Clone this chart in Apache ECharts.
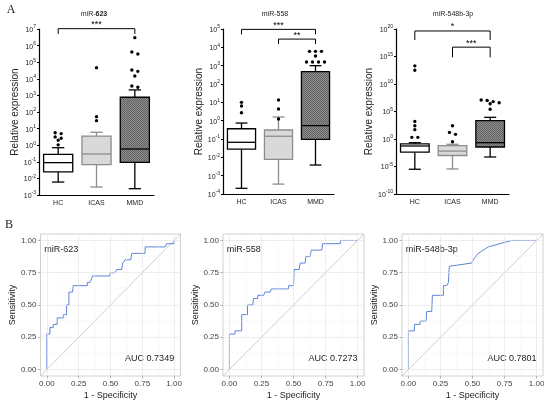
<!DOCTYPE html>
<html>
<head>
<meta charset="utf-8">
<script src="https://cdn.jsdelivr.net/npm/echarts@6.0.0/dist/echarts.min.js"></script>
<style>
html,body{margin:0;padding:0;background:#fff;}
#chart{width:550px;height:405px;}
</style>
</head>
<body>
<div id="chart"></div>
<script>
var groups = ['HC', 'ICAS', 'MMD'];

// log10(relative expression) per group: [min, Q1, median, Q3, max]
var box623 = [[-2.22, -1.61, -1.05, -0.55, -0.15], [-2.52, -1.17, -0.53, 0.55, 0.78], [-2.62, -1.03, -0.23, 2.89, 3.33]];
var box558 = [[-3.69, -1.55, -1.18, -0.44, -0.13], [-3.46, -2.11, -0.85, -0.51, 0.2], [-2.42, -1.02, -0.27, 2.67, 3.0]];
var box548 = [[-5.5, -2.4, -1.27, -0.9, -0.67], [-5.45, -3.0, -2.2, -1.2, -0.96], [-3.27, -1.45, -0.67, 3.33, 3.94]];

// outliers, log10
var out623 = [[0.75, 0.7, 0.5, 0.42, 0.3, 0.02], [4.67, 1.72, 1.48], [6.48, 5.61, 5.49, 4.53, 4.45, 4.17, 3.57, 3.49]];
var out558 = [[1.0, 0.8, 0.43], [1.13, 0.64, 0.09], [3.78, 3.78, 3.78, 3.53, 3.2, 3.2, 3.2, 3.2]];
var out548 = [[13.3, 12.5, 3.2, 2.4, 1.7, 0.3, 0.3], [2.42, 1.2, 0.85, -0.5], [7.1, 7.0, 6.8, 6.6, 6.4, 5.4]];

// significance brackets: [from, to, leg end, bar level, stars]
var sig623 = [[0, 2, 6.7, 7.02, '***']];
var sig558 = [[0, 2, 4.71, 4.98, '***'], [1, 2, 4.18, 4.45, '**']];
var sig548 = [[0, 2, 18.0, 19.64, '*'], [1, 2, 14.85, 16.7, '***']];

// y ranges (exponent): [min, max, step]
var yRanges = [[-3, 7, 1], [-4, 5, 1], [-10, 20, 5]];
var titles = ['miR-623', 'miR-558', 'miR-548b-3p'];

// ROC curves: [1 - specificity, sensitivity]
var roc623 = [[0,0],[0,0.275],[0.024,0.275],[0.024,0.325],[0.05,0.325],[0.05,0.35],[0.081,0.35],[0.081,0.4],[0.129,0.4],[0.129,0.425],[0.155,0.425],[0.155,0.5],[0.173,0.5],[0.173,0.6],[0.202,0.6],[0.207,0.65],[0.318,0.65],[0.318,0.675],[0.339,0.675],[0.36,0.725],[0.496,0.725],[0.496,0.75],[0.535,0.75],[0.549,0.775],[0.588,0.775],[0.596,0.825],[0.614,0.85],[0.659,0.85],[0.667,0.9],[0.772,0.9],[0.772,0.95],[0.929,0.95],[0.942,0.975],[1,0.975],[1,1]];
var roc558 = [[0,0],[0,0.275],[0.044,0.275],[0.044,0.3],[0.096,0.3],[0.096,0.425],[0.141,0.425],[0.141,0.5],[0.182,0.5],[0.188,0.55],[0.221,0.55],[0.221,0.575],[0.266,0.575],[0.279,0.6],[0.318,0.6],[0.326,0.625],[0.461,0.625],[0.461,0.65],[0.5,0.65],[0.505,0.775],[0.544,0.775],[0.552,0.825],[0.591,0.825],[0.596,0.875],[0.63,0.875],[0.638,0.925],[0.721,0.925],[0.727,0.975],[0.865,0.975],[0.865,1],[1,1]];
var roc548 = [[0,0],[0,0.3],[0.047,0.3],[0.047,0.35],[0.091,0.35],[0.091,0.375],[0.138,0.375],[0.143,0.45],[0.182,0.45],[0.187,0.575],[0.273,0.575],[0.273,0.65],[0.3,0.65],[0.312,0.675],[0.319,0.8],[0.494,0.825],[0.506,0.85],[0.545,0.9],[0.623,0.95],[0.805,1],[1,1]];
var aucLabels = ['AUC 0.7349', 'AUC 0.7273', 'AUC 0.7801'];
var rocTicks = [0, 0.25, 0.5, 0.75, 1];
var rocMinor = [0.125, 0.375, 0.625, 0.875];

var FONT = '"Liberation Sans", Arial, sans-serif';

var topGrids = [
    {left: 39, top: 29, width: 115, height: 166},
    {left: 223, top: 29, width: 111, height: 165},
    {left: 396, top: 29, width: 113, height: 165}
];
var rocGrids = [
    {left: 40.5, top: 234, width: 140, height: 142},
    {left: 223, top: 234, width: 141, height: 142},
    {left: 402, top: 234, width: 141, height: 142}
];

// fine dithered grey fill for the MMD boxes
function dither() {
    var c = document.createElement('canvas');
    c.width = 2; c.height = 2;
    var g = c.getContext('2d');
    g.fillStyle = '#8e8e8e';
    g.fillRect(0, 0, 2, 2);
    g.fillStyle = '#626262';
    g.fillRect(0, 0, 1, 1);
    g.fillRect(1, 1, 1, 1);
    return {image: c, repeat: 'repeat'};
}
var boxStyles = [
    {fill: '#ffffff', stroke: '#000000'},
    {fill: '#d9d9d9', stroke: '#8c8c8c'},
    {fill: dither(), stroke: '#000000'}
];

function renderBox(params, api) {
    var i = api.value(0);
    var p = [1, 2, 3, 4, 5].map(function (k) { return api.coord([i, api.value(k)]); });
    var band = api.size([1, 0])[0];
    var hw = band * 0.38, cw = band * 0.16, x = p[0][0];
    var st = boxStyles[i];
    var ls = {stroke: st.stroke, lineWidth: 1.3};
    return {type: 'group', children: [
        {type: 'line', shape: {x1: x, y1: p[0][1], x2: x, y2: p[1][1]}, style: ls},
        {type: 'line', shape: {x1: x, y1: p[3][1], x2: x, y2: p[4][1]}, style: ls},
        {type: 'line', shape: {x1: x - cw, y1: p[0][1], x2: x + cw, y2: p[0][1]}, style: ls},
        {type: 'line', shape: {x1: x - cw, y1: p[4][1], x2: x + cw, y2: p[4][1]}, style: ls},
        {type: 'rect', shape: {x: x - hw, y: p[3][1], width: 2 * hw, height: p[1][1] - p[3][1]},
            style: {fill: st.fill, stroke: st.stroke, lineWidth: 1.3}},
        {type: 'line', shape: {x1: x - hw, y1: p[2][1], x2: x + hw, y2: p[2][1]}, style: ls}
    ]};
}

function renderDot(params, api) {
    var c = api.coord([api.value(0), api.value(1)]);
    return {type: 'circle', shape: {cx: c[0] + api.value(2) * 6, cy: c[1], r: 1.7}, style: {fill: '#000'}};
}

// place close outliers side by side
function swarm(outs, thr) {
    var res = [];
    outs.forEach(function (vals, i) {
        var s = vals.slice().sort(function (a, b) { return b - a; });
        var grp = [];
        function flush() {
            grp.forEach(function (v, j) { res.push([i, v, j - (grp.length - 1) / 2]); });
            grp = [];
        }
        s.forEach(function (v) {
            if (grp.length && grp[0] - v > thr) flush();
            grp.push(v);
        });
        flush();
    });
    return res;
}

function makeBracket(sig) {
    return function (params, api) {
        var b = sig[params.dataIndex];
        var a0 = api.coord([b[0], b[2]]), a1 = api.coord([b[0], b[3]]);
        var c1 = api.coord([b[1], b[3]]), c0 = api.coord([b[1], b[2]]);
        return {type: 'group', children: [
            {type: 'polyline', shape: {points: [a0, a1, c1, c0]}, style: {stroke: '#000', lineWidth: 1, fill: null}},
            {type: 'text', x: (a1[0] + c1[0]) / 2, y: a1[1] - 4,
                style: {text: b[4], fill: '#000', font: '9px ' + FONT, align: 'center', verticalAlign: 'middle'}}
        ]};
    };
}

var boxSets = [box623, box558, box548];
var outSets = [out623, out558, out548];
var sigSets = [sig623, sig558, sig548];
var rocSets = [roc623, roc558, roc548];

var grids = [], xAxes = [], yAxes = [], series = [];

topGrids.forEach(function (g, k) {
    var r = yRanges[k];
    grids.push(g);
    xAxes.push({
        gridIndex: k, type: 'category', data: groups,
        axisLine: {onZero: false, lineStyle: {color: '#000', width: 1.2}},
        axisTick: {alignWithLabel: true, length: 3, lineStyle: {color: '#000'}},
        axisLabel: {fontSize: 7, color: '#222', margin: 5, fontFamily: FONT},
        splitLine: {show: false}
    });
    yAxes.push({
        gridIndex: k, type: 'value', min: r[0], max: r[1], interval: r[2],
        name: 'Relative expression', nameLocation: 'middle', nameGap: 19,
        nameTextStyle: {fontSize: 10, color: '#222', fontFamily: FONT},
        axisLine: {show: true, onZero: false, lineStyle: {color: '#000', width: 1.2}},
        axisTick: {show: true, length: 2, lineStyle: {color: '#000'}},
        axisLabel: {
            margin: 3,
            formatter: function (v) { return '{b|10}{s|' + v + '}'; },
            rich: {
                b: {fontSize: 7, color: '#222', fontFamily: FONT, lineHeight: 9, verticalAlign: 'bottom'},
                s: {fontSize: 5, color: '#222', fontFamily: FONT, verticalAlign: 'top'}
            }
        },
        splitLine: {show: false}
    });
    series.push({
        type: 'custom', xAxisIndex: k, yAxisIndex: k, renderItem: renderBox, silent: true,
        data: boxSets[k].map(function (b, i) { return [i].concat(b); }),
        encode: {x: 0, y: [1, 2, 3, 4, 5]}
    });
    series.push({
        type: 'custom', xAxisIndex: k, yAxisIndex: k, renderItem: renderDot, silent: true,
        data: swarm(outSets[k], (r[1] - r[0]) * 3.0 / g.height),
        encode: {x: 0, y: 1}
    });
    series.push({
        type: 'custom', xAxisIndex: k, yAxisIndex: k, renderItem: makeBracket(sigSets[k]), silent: true,
        data: sigSets[k].map(function (b) { return [b[0], b[3]]; }),
        encode: {x: 0, y: 1}
    });
});

rocGrids.forEach(function (g, j) {
    var k = j + 3;
    grids.push(Object.assign({show: true, borderColor: '#c4c4c4', borderWidth: 0.8, backgroundColor: '#fff'}, g));
    var common = {
        gridIndex: k, type: 'value', min: -0.05, max: 1.05,
        nameLocation: 'middle',
        nameTextStyle: {fontSize: 9, color: '#222', fontFamily: FONT},
        axisLine: {show: false, onZero: false},
        axisTick: {show: true, length: 2.5, customValues: rocTicks, lineStyle: {color: '#b3b3b3'}},
        axisLabel: {customValues: rocTicks, fontSize: 8, color: '#444', margin: 4, fontFamily: FONT,
            formatter: function (v) { return v.toFixed(2); }},
        splitLine: {show: false}
    };
    xAxes.push(Object.assign({name: '1 - Specificity', nameGap: 15}, common));
    yAxes.push(Object.assign({name: 'Sensitivity', nameGap: 23}, common));
    var gl = [];
    rocTicks.forEach(function (t) {
        gl.push({xAxis: t, lineStyle: {color: '#e3e3e3', width: 0.6}});
        gl.push({yAxis: t, lineStyle: {color: '#e3e3e3', width: 0.6}});
    });
    rocMinor.forEach(function (t) {
        gl.push({xAxis: t, lineStyle: {color: '#f1f1f1', width: 0.4}});
        gl.push({yAxis: t, lineStyle: {color: '#f1f1f1', width: 0.4}});
    });
    series.push({
        type: 'line', xAxisIndex: k, yAxisIndex: k, silent: true, showSymbol: false,
        data: [[-0.05, -0.05], [1.05, 1.05]],
        lineStyle: {color: '#b8b8b8', width: 0.7},
        markLine: {silent: true, symbol: 'none', label: {show: false}, animation: false,
            lineStyle: {type: 'solid'}, data: gl}
    });
    series.push({
        type: 'line', xAxisIndex: k, yAxisIndex: k, silent: true, showSymbol: false,
        data: rocSets[j],
        lineStyle: {color: '#5f83db', width: 1}
    });
});

var chart = echarts.init(document.getElementById('chart'));
chart.setOption({
    animation: false,
    grid: grids,
    xAxis: xAxes,
    yAxis: yAxes,
    series: series
});

var gfx = [
    {type: 'text', x: 11, y: 10, style: {text: 'A', font: '12px "Liberation Serif", serif', fill: '#222', align: 'center', verticalAlign: 'middle'}},
    {type: 'text', x: 9, y: 224.5, style: {text: 'B', font: '12px "Liberation Serif", serif', fill: '#222', align: 'center', verticalAlign: 'middle'}},
    {type: 'text', x: 94, y: 14, style: {text: '{n|miR-}{b|623}', rich: {n: {font: '7px ' + FONT, fill: '#222'}, b: {font: 'bold 7px ' + FONT, fill: '#222'}}, align: 'center', verticalAlign: 'middle'}},
    {type: 'text', x: 275, y: 14, style: {text: titles[1], font: '7px ' + FONT, fill: '#222', align: 'center', verticalAlign: 'middle'}},
    {type: 'text', x: 453, y: 14, style: {text: titles[2], font: '7px ' + FONT, fill: '#222', align: 'center', verticalAlign: 'middle'}}
];
rocGrids.forEach(function (g, j) {
    var p1 = chart.convertToPixel({gridIndex: j + 3}, [-0.02, 0.926]);
    var p2 = chart.convertToPixel({gridIndex: j + 3}, [1.0, 0.085]);
    gfx.push({type: 'text', x: p1[0], y: p1[1], style: {text: titles[j], font: '9px ' + FONT, fill: '#222', align: 'left', verticalAlign: 'middle'}});
    gfx.push({type: 'text', x: p2[0], y: p2[1], style: {text: aucLabels[j], font: '9px ' + FONT, fill: '#222', align: 'right', verticalAlign: 'middle'}});
});
chart.setOption({graphic: gfx});
</script>
</body>
</html>
